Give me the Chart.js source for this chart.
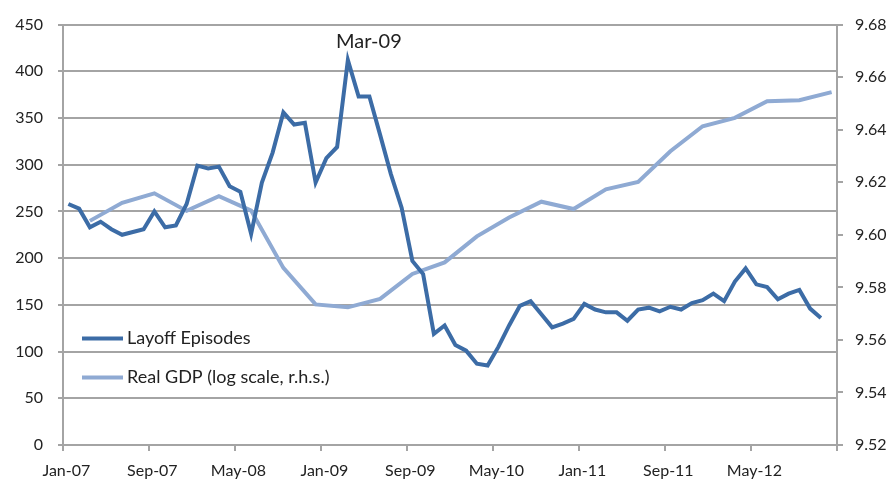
<!DOCTYPE html>
<html>
<head>
<meta charset="utf-8">
<script src="https://cdn.jsdelivr.net/npm/chart.js@4.4.1/dist/chart.umd.min.js"></script>
<style>
  html, body { margin: 0; padding: 0; background: #fff; }
  canvas { display: block; }
</style>
</head>
<body>
<canvas id="layoffChart" width="893" height="483"></canvas>
<script>
// Categorías: meses Jan-07 .. Dec-12
const meses = ['Jan', 'Feb', 'Mar', 'Apr', 'May', 'Jun', 'Jul', 'Aug', 'Sep', 'Oct', 'Nov', 'Dec'];
const anios = ['07', '08', '09', '10', '11', '12'];
const etiquetasMes = [];
anios.forEach(a => meses.forEach(m => etiquetasMes.push(m + '-' + a)));

// Layoff Episodes (mensual, Jan-07 .. Nov-12)
const layoffEpisodes = [
  258, 253, 233, 239, 231, 225, 228, 231, 250, 233, 235, 258,
  299, 296, 298, 277, 271, 226, 281, 313, 356, 343, 345, 281,
  307, 319, 412, 373, 373, 332, 290, 254, 197, 183, 119, 128,
  107, 101, 87, 85, 105, 128, 149, 154, 140, 126, 130, 135,
  151, 145, 142, 142, 133, 145, 147, 143, 148, 145, 152, 155,
  162, 154, 175, 189, 172, 169, 156, 162, 166, 146, 136
];

// Real GDP (log), trimestral, fin de trimestre
const gdpTrimestres = [
  'Mar-07', 'Jun-07', 'Sep-07', 'Dec-07', 'Mar-08', 'Jun-08', 'Sep-08', 'Dec-08',
  'Mar-09', 'Jun-09', 'Sep-09', 'Dec-09', 'Mar-10', 'Jun-10', 'Sep-10', 'Dec-10',
  'Mar-11', 'Jun-11', 'Sep-11', 'Dec-11', 'Mar-12', 'Jun-12', 'Sep-12', 'Dec-12'
];
const realGdpLog = [
  9.6053, 9.6122, 9.6158, 9.6091, 9.6147, 9.6092, 9.5874, 9.5735,
  9.5724, 9.5756, 9.5851, 9.5895, 9.5994, 9.6066, 9.6126, 9.6098,
  9.6173, 9.6201, 9.6318, 9.6413, 9.6445, 9.6508, 9.6512, 9.6543
];

const ticksIzq = { min: 0, max: 450, step: 50 };
const ticksDer = { min: 9.52, max: 9.68, step: 0.02 };

const colorLayoff = '#3C6CA6';
const colorGdp = '#8FAAD3';
const colorGrid = '#A4A4A4';
const colorTexto = '#222222';
const fuente = 'Lato, "Open Sans", sans-serif';

const picoIdx = layoffEpisodes.indexOf(Math.max(...layoffEpisodes));

// Leyenda dentro del área del gráfico
const leyendaInterna = {
  id: 'leyendaInterna',
  afterDatasetsDraw(chart) {
    const ctx = chart.ctx;
    const area = chart.chartArea;
    const x0 = area.left + 19;
    const filas = [area.top + 314, area.top + 353];
    chart.data.datasets.forEach((ds, i) => {
      const y = filas[i];
      ctx.save();
      ctx.strokeStyle = ds.borderColor;
      ctx.lineWidth = 4;
      ctx.beginPath();
      ctx.moveTo(x0, y);
      ctx.lineTo(x0 + 41, y);
      ctx.stroke();
      ctx.fillStyle = colorTexto;
      ctx.font = '18px ' + fuente;
      ctx.textBaseline = 'middle';
      ctx.fillText(ds.label, x0 + 45, y);
      ctx.restore();
    });
  }
};

// Etiqueta del pico
const etiquetaPico = {
  id: 'etiquetaPico',
  afterDatasetsDraw(chart) {
    const ctx = chart.ctx;
    const x = chart.scales.x.getPixelForValue(picoIdx);
    const y = chart.scales.y.getPixelForValue(layoffEpisodes[picoIdx]);
    ctx.save();
    ctx.fillStyle = colorTexto;
    ctx.font = '20px ' + fuente;
    ctx.textAlign = 'center';
    ctx.textBaseline = 'alphabetic';
    ctx.fillText(etiquetasMes[picoIdx], x + 21, y - 12);
    ctx.restore();
  }
};

const chartLayoff = document.getElementById('layoffChart').getContext('2d');
new Chart(chartLayoff, {
  type: 'line',
  data: {
    labels: etiquetasMes,
    datasets: [
      {
        label: 'Layoff Episodes',
        data: layoffEpisodes,
        yAxisID: 'y',
        borderColor: colorLayoff,
        borderWidth: 4,
        pointRadius: 0,
        tension: 0,
        fill: false
      },
      {
        label: 'Real GDP (log scale, r.h.s.)',
        data: gdpTrimestres.map((q, i) => ({ x: q, y: realGdpLog[i] })),
        yAxisID: 'y1',
        borderColor: colorGdp,
        borderWidth: 4,
        pointRadius: 0,
        tension: 0,
        fill: false
      }
    ]
  },
  options: {
    responsive: false,
    animation: false,
    devicePixelRatio: 1,
    layout: { padding: { top: 23, left: 0, right: 0, bottom: 0 } },
    plugins: {
      legend: { display: false },
      tooltip: { enabled: false }
    },
    scales: {
      x: {
        type: 'category',
        offset: true,
        afterFit(scale) { scale.height = 38; },
        border: { display: true, color: colorGrid, width: 2 },
        grid: {
          offset: true,
          drawOnChartArea: false,
          drawTicks: true,
          tickLength: 6,
          lineWidth: 2,
          color: (c) => (c.index === undefined || c.index % 8 === 0) ? colorGrid : 'rgba(0,0,0,0)'
        },
        ticks: {
          autoSkip: false,
          maxRotation: 0,
          minRotation: 0,
          padding: 10,
          labelOffset: -2,
          color: colorTexto,
          font: { family: fuente, size: 16 },
          callback: function (val, index) {
            return index % 8 === 0 ? this.getLabelForValue(val) : '';
          }
        }
      },
      y: {
        position: 'left',
        min: ticksIzq.min,
        max: ticksIzq.max,
        afterFit(scale) { scale.width = 63; },
        border: { display: true, color: colorGrid, width: 2 },
        grid: {
          color: colorGrid,
          lineWidth: 2,
          drawTicks: true,
          tickLength: 5
        },
        ticks: {
          stepSize: ticksIzq.step,
          padding: 15,
          color: colorTexto,
          font: { family: fuente, size: 16 }
        }
      },
      y1: {
        position: 'right',
        min: ticksDer.min,
        max: ticksDer.max,
        afterFit(scale) { scale.width = 56; },
        border: { display: true, color: colorGrid, width: 2 },
        grid: {
          drawOnChartArea: false,
          drawTicks: true,
          tickLength: 6,
          color: colorGrid,
          lineWidth: 2
        },
        ticks: {
          stepSize: ticksDer.step,
          padding: 12,
          color: colorTexto,
          font: { family: fuente, size: 16 },
          callback: (v) => v.toFixed(2)
        }
      }
    }
  },
  plugins: [leyendaInterna, etiquetaPico]
});
</script>
</body>
</html>
